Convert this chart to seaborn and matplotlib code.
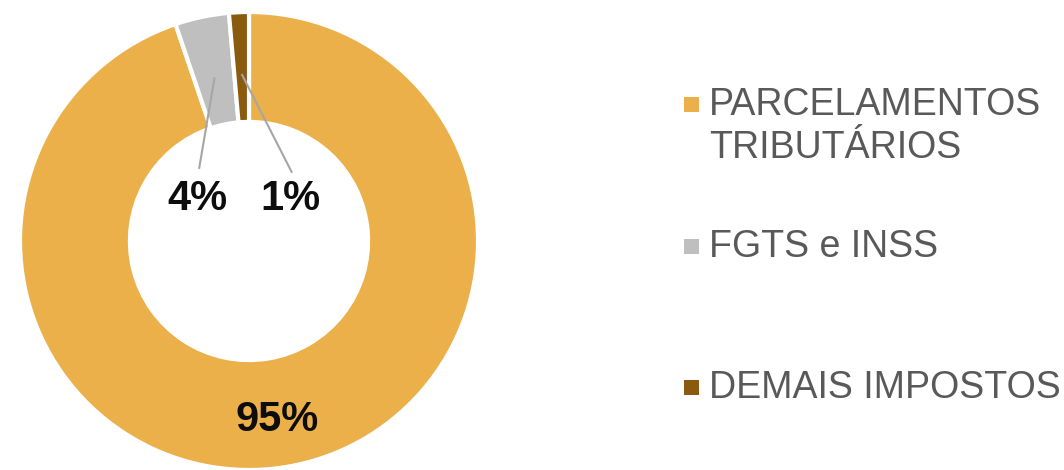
import numpy as np
import matplotlib.pyplot as plt
from matplotlib.patches import Rectangle
import seaborn as sns

# data
categories = ["PARCELAMENTOS\nTRIBUTÁRIOS", "FGTS e INSS", "DEMAIS IMPOSTOS"]
shares = [94.8, 3.8, 1.4]
colors = ["#EBB04A", "#BFBFBF", "#8A5A0F"]

sns.set_theme(style="white")
plt.rcParams['font.family'] = ['Liberation Sans', 'DejaVu Sans']

W, H = 1064, 470
fig = plt.figure(figsize=(W / 100, H / 100), dpi=100)

# donut: centre (249, 241) px, outer radius 229 px
R = 229
cx, cy = 249, 241
pad = 1.05
ax = fig.add_axes([(cx - pad * R) / W, (H - cy - pad * R) / H, 2 * pad * R / W, 2 * pad * R / H])
wedges, _ = ax.pie(shares, colors=colors, startangle=90, counterclock=False,
                   radius=1.0,
                   wedgeprops=dict(width=0.48, edgecolor="white", linewidth=3))
ax.set_xlim(-pad, pad)
ax.set_ylim(-pad, pad)
ax.set_aspect("equal")
ax.axis("off")

# percent labels
label_pos = [(0.122, -0.782), (-0.223, 0.183), (0.179, 0.183)]
line_start = [None, (-0.218, 0.315), (0.188, 0.298)]
for i, (w, v) in enumerate(zip(wedges, shares)):
    txt = f"{round(v)}%"
    x, y = label_pos[i]
    ax.text(x, y, txt, ha="center", va="center", fontsize=30,
            color="#0D0D0D", fontweight="bold")
    if line_start[i] is not None:
        mid = np.deg2rad((w.theta1 + w.theta2) / 2)
        r = 0.73
        tx, ty = r * np.cos(mid), r * np.sin(mid)
        ax.plot([line_start[i][0], tx], [line_start[i][1], ty],
                color="#A6A6A6", lw=1.5, solid_capstyle="butt")

# legend, drawn by hand so the marker sits on the first text line
baselines = [115, 257, 398]
line_gap = 43
for lab, col, base in zip(categories, colors, baselines):
    my = base - 11
    fig.patches.append(Rectangle((684 / W, (H - my - 7.5) / H), 15 / W, 15 / H,
                                 transform=fig.transFigure, facecolor=col,
                                 edgecolor="none"))
    for j, part in enumerate(lab.split("\n")):
        fig.text(709 / W, (H - base - j * line_gap) / H, part, ha="left",
                 va="baseline", fontsize=27, color="#595959")

fig.savefig("out.png", dpi=100, facecolor="white")
